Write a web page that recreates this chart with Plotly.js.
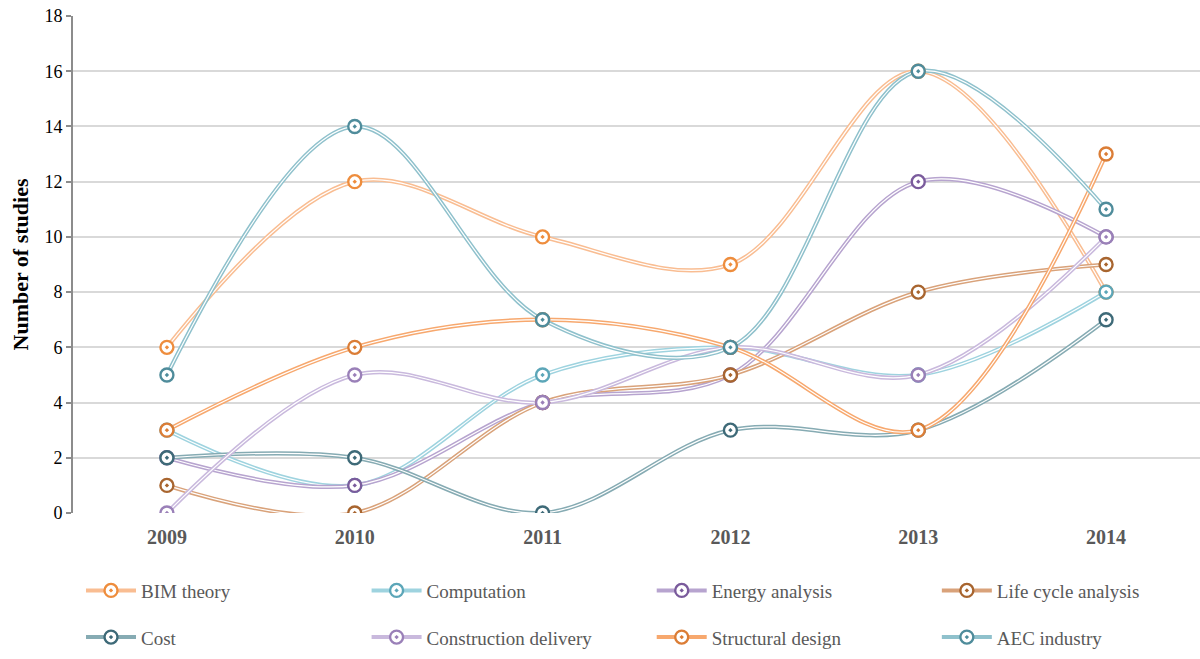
<!DOCTYPE html>
<html>
<head>
<meta charset="utf-8">
<script src="https://cdn.plot.ly/plotly-3.0.1.min.js"></script>
<style>html,body{margin:0;padding:0;background:#fff;}#chart{width:1200px;height:659px;}</style>
</head>
<body>
<div id="chart"></div>
<script>
const years = ["2009", "2010", "2011", "2012", "2013", "2014"];
const seriesNames = ["BIM theory", "Computation", "Energy analysis", "Life cycle analysis",
                     "Cost", "Construction delivery", "Structural design", "AEC industry"];
const bimTheory            = [6, 12, 10, 9, 16, 8];
const computation          = [3, 1, 5, 6, 5, 8];
const energyAnalysis       = [2, 1, 4, 5, 12, 10];
const lifeCycleAnalysis    = [1, 0, 4, 5, 8, 9];
const cost                 = [2, 2, 0, 3, 3, 7];
const constructionDelivery = [0, 5, 4, 6, 5, 10];
const structuralDesign     = [3, 6, 7, 6, 3, 13];
const aecIndustry          = [5, 14, 7, 6, 16, 11];
const seriesValues = [bimTheory, computation, energyAnalysis, lifeCycleAnalysis,
                      cost, constructionDelivery, structuralDesign, aecIndustry];

const lineColors   = ["#f9bd92", "#9ed3df", "#b7a4cf", "#d9a27a", "#86abb3", "#c9b9dd", "#f7a86e", "#8fc1cc"];
const markerColors = ["#ee8d3d", "#5ca6b8", "#7a5b9c", "#a8652f", "#3e6a78", "#9a80b8", "#db7d36", "#4f8c9b"];

const traces = [];
seriesValues.forEach((vals, i) => {
  traces.push({x: years, y: vals, type: 'scatter', mode: 'lines', showlegend: false, hoverinfo: 'skip',
    line: {color: lineColors[i], width: 4.2, shape: 'spline', smoothing: 1}});
  traces.push({x: years, y: vals, type: 'scatter', mode: 'lines', showlegend: false, hoverinfo: 'skip',
    line: {color: '#ffffff', width: 1.2, shape: 'spline', smoothing: 1}});
});
seriesValues.forEach((vals, i) => {
  traces.push({x: years, y: vals, type: 'scatter', mode: 'markers', showlegend: false, hoverinfo: 'skip',
    marker: {symbol: 'circle', size: 14, color: '#ffffff'}});
  traces.push({x: years, y: vals, type: 'scatter', mode: 'markers', name: seriesNames[i], showlegend: false,
    marker: {symbol: 'circle-open-dot', size: 13, color: markerColors[i], line: {width: 2.4, color: markerColors[i]}}});
});
const legendIds = ['legend', 'legend2', 'legend3', 'legend4', 'legend5', 'legend6', 'legend7', 'legend8'];
seriesNames.forEach((nm, i) => {
  traces.push({x: [null], y: [null], type: 'scatter', mode: 'lines+markers', name: nm,
    legend: legendIds[i],
    line: {color: lineColors[i], width: 4},
    marker: {symbol: 'circle-dot', size: 13, color: '#ffffff', line: {width: 2.4, color: markerColors[i]}}});
});

const legendFont = {family: 'Liberation Serif, Times New Roman, serif', size: 19, color: '#595959'};
const colX = [0.0071, 0.2605, 0.5135, 0.7665];
const rowY = [-0.156, -0.250];

const layout = {
  width: 1200, height: 659,
  margin: {l: 73, r: 0, t: 16, b: 146},
  paper_bgcolor: '#ffffff', plot_bgcolor: '#ffffff',
  font: {family: 'Liberation Serif, Times New Roman, serif', color: '#000'},
  xaxis: {type: 'category', range: [-0.5, 5.5], showgrid: false, zeroline: false, showline: false,
    ticks: 'outside', ticklen: 6, tickcolor: 'rgba(0,0,0,0)',
    tickfont: {family: 'Liberation Serif, Times New Roman, serif', size: 20, color: '#595959', weight: 'bold'}},
  yaxis: {range: [0, 18], dtick: 2, showgrid: true, gridcolor: '#d9d9d9', gridwidth: 2,
    zeroline: false, showline: true, linecolor: '#8c8c8c', linewidth: 2,
    ticks: 'outside', ticklen: 5, tickcolor: '#8c8c8c', tickwidth: 2,
    tickfont: {family: 'Liberation Serif, Times New Roman, serif', size: 18, color: '#000'},
    title: {text: '<b>Number of studies</b>', standoff: 10,
      font: {family: 'Liberation Serif, Times New Roman, serif', size: 22, color: '#000'}}},
  showlegend: true
};
legendIds.forEach((id, i) => {
  layout[id] = {orientation: 'h', xanchor: 'left', yanchor: 'middle',
    x: colX[i % 4], y: rowY[Math.floor(i / 4)], itemwidth: 50,
    bgcolor: 'rgba(0,0,0,0)', font: legendFont};
});

Plotly.newPlot('chart', traces, layout, {displayModeBar: false, staticPlot: true});
</script>
</body>
</html>
